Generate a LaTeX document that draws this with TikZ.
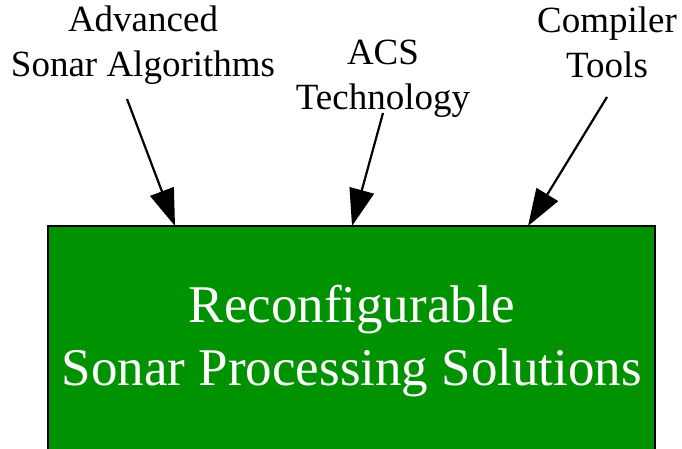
\documentclass[tikz,border=0pt]{standalone}
\usepackage{fontspec}
\setmainfont{Liberation Serif}
\usetikzlibrary{arrows.meta}
\definecolor{boxgreen}{RGB}{0,146,0}
\tikzset{
  label text/.style={font=\fontsize{37}{45}\selectfont, align=center, anchor=base, inner sep=0pt},
  main text/.style={font=\fontsize{53}{63}\selectfont, align=center, anchor=base, inner sep=0pt, text=white},
  feed/.style={line width=2.2pt, -{Triangle[length=37pt,width=25pt]}},
  panel/.style={fill=boxgreen, draw=black, line width=1.8pt}
}
\begin{document}
\begin{tikzpicture}[x=1pt,y=-1pt]
  \useasboundingbox (0,0) rectangle (682,448);
  \clip (0,0) rectangle (682,448);
  % solution panel running off the bottom edge
  \draw[panel] (48,226) rectangle (655,470);
  \node[main text] (sol) at (352,385) {Reconfigurable\\Sonar Processing Solutions};
  % input labels (anchored at the baseline of their last line)
  \node[label text] (alg) at (143,76) {Advanced\\Sonar Algorithms};
  \node[label text] (acs) at (383,109) {ACS\\Technology};
  \node[label text] (cmp) at (607,77) {Compiler\\Tools};
  % arrow tails and heads
  \coordinate (algS) at (127,99);
  \coordinate (acsS) at (383,113);
  \coordinate (cmpS) at (607,97);
  \coordinate (algT) at (175,226);
  \coordinate (acsT) at (352,226);
  \coordinate (cmpT) at (528,226);
  \draw[feed] (algS) -- (algT);
  \draw[feed] (acsS) -- (acsT);
  \draw[feed] (cmpS) -- (cmpT);
\end{tikzpicture}
\end{document}
